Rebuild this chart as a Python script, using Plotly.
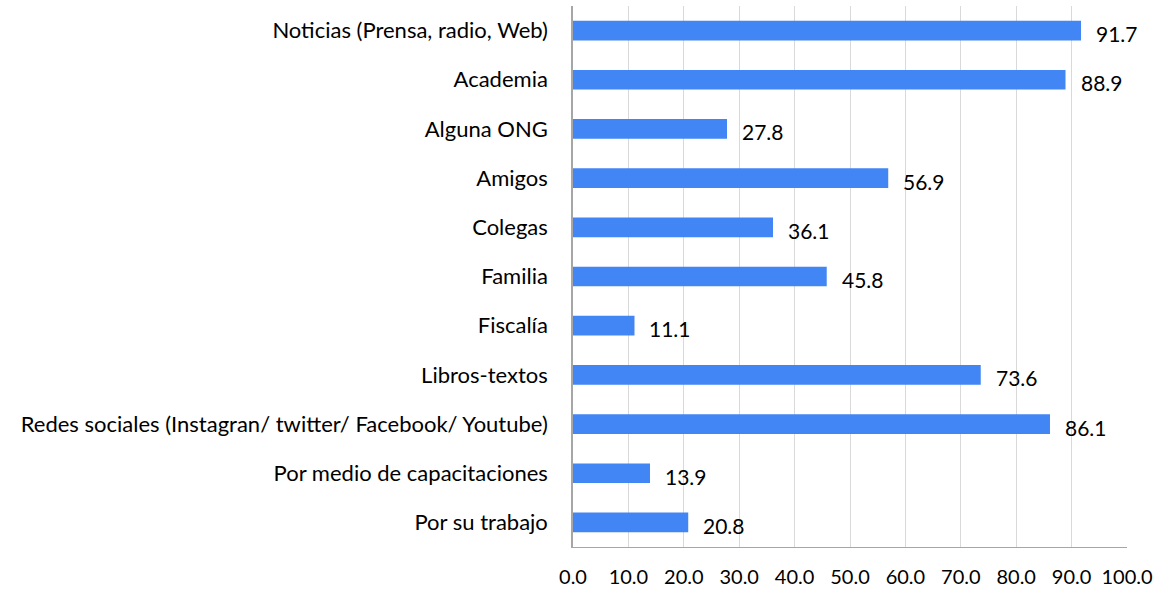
import plotly.graph_objects as go

categories = [
    "Noticias (Prensa, radio, Web)",
    "Academia",
    "Alguna ONG",
    "Amigos",
    "Colegas",
    "Familia",
    "Fiscalía",
    "Libros-textos",
    "Redes sociales (Instagran/ twitter/ Facebook/ Youtube)",
    "Por medio de capacitaciones",
    "Por su trabajo",
]
values = [91.7, 88.9, 27.8, 56.9, 36.1, 45.8, 11.1, 73.6, 86.1, 13.9, 20.8]
x_ticks = [0, 10, 20, 30, 40, 50, 60, 70, 80, 90, 100]

FONT = "Lato, Carlito, Calibri, sans-serif"

fig = go.Figure()
fig.add_trace(go.Bar(
    x=values, y=categories, orientation="h",
    marker=dict(color="#4285F4", line=dict(width=0)),
    width=0.4,
))
for v, c in zip(values, categories):
    fig.add_annotation(x=v, y=c, text=f"{v:.1f}", showarrow=False,
                       xanchor="left", yanchor="middle", xshift=13, yshift=-3,
                       font=dict(family=FONT, size=21, color="#000000"))

fig.update_layout(
    width=1173, height=594,
    margin=dict(l=573, r=46, t=6, b=44),
    plot_bgcolor="white", paper_bgcolor="white",
    showlegend=False,
    font=dict(family=FONT, size=21, color="#000000"),
)
fig.update_xaxes(
    range=[0, 100], tickvals=x_ticks, tickformat=".1f",
    showgrid=True, gridcolor="#d9d9d9", gridwidth=1,
    showline=True, linecolor="#a6a6a6", linewidth=1,
    zeroline=False, ticks="", ticklabelstandoff=12,
    tickfont=dict(family=FONT, size=20, color="#000000"),
)
fig.update_yaxes(
    categoryorder="array", categoryarray=categories[::-1],
    showgrid=False, showline=True, linecolor="#a6a6a6", linewidth=1.5,
    ticks="", ticklabelstandoff=19,
    tickfont=dict(family=FONT, size=22, color="#000000"),
)
fig.write_html("out.html", config={"displayModeBar": False},
               post_script="document.body.style.margin='0px';")
